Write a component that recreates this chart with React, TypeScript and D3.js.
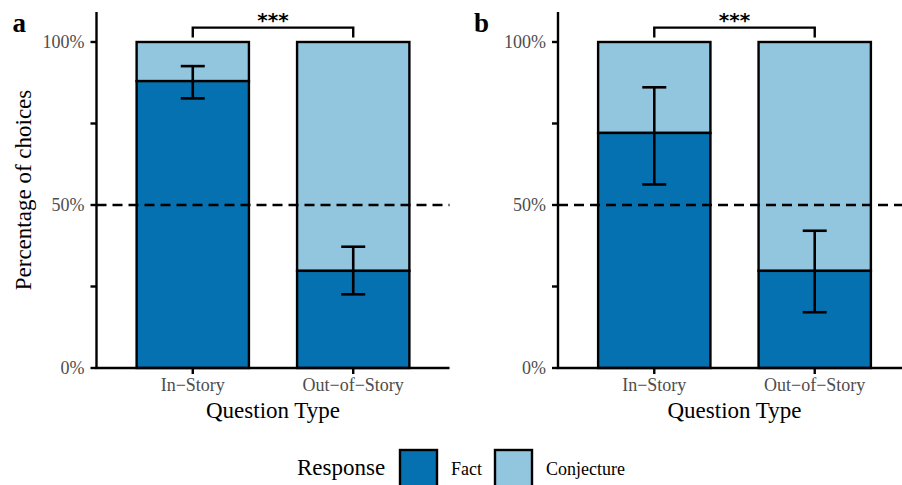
import * as d3 from 'd3';

const categories = ['In−Story', 'Out−of−Story'];
const yTicks = [0, 0.25, 0.5, 0.75, 1];
const yTickLabels = ['0%', '', '50%', '', '100%'];

// panel a
const factA = [0.88, 0.298];
const lowA = [0.827, 0.226];
const highA = [0.926, 0.372];

// panel b
const factB = [0.721, 0.298];
const lowB = [0.563, 0.171];
const highB = [0.861, 0.421];

const FACT = '#0571b0';
const CONJ = '#92c5de';
const FONT = 'Liberation Serif';

const W = 902;
const H = 485;
const top = 12;
const bottom = 368;
const panelWidth = 353;
const LW = 2.4;

type PanelProps = {
  left: number;
  letter: string;
  fact: number[];
  low: number[];
  high: number[];
  showYTitle: boolean;
};

const Panel = ({ left, letter, fact, low, high, showYTitle }: PanelProps) => {
  const right = left + panelWidth;
  const y = d3.scaleLinear().domain([0, 1.092]).range([bottom, top]);
  const x = d3.scalePoint<string>().domain(categories).range([left, right]).padding(0.6);
  const bw = x.step() * 0.7;
  const capW = 24;
  const x0 = x(categories[0])!;
  const x1 = x(categories[1])!;

  return (
    <g>
      <text x={left - 84} y={32} style={{ fontFamily: FONT }} fontWeight="bold" fontSize={27} fill="#000">
        {letter}
      </text>

      {categories.map((c, i) => {
        const cx = x(c)!;
        return (
          <g key={c}>
            <rect x={cx - bw / 2} y={y(1)} width={bw} height={y(fact[i]) - y(1)}
              fill={CONJ} stroke="#000" strokeWidth={LW} />
            <rect x={cx - bw / 2} y={y(fact[i])} width={bw} height={y(0) - y(fact[i])}
              fill={FACT} stroke="#000" strokeWidth={LW} />
          </g>
        );
      })}

      <line x1={left} x2={right} y1={y(0.5)} y2={y(0.5)} stroke="#000" strokeWidth={2.4}
        strokeDasharray="10,6" />

      {categories.map((c, i) => {
        const cx = x(c)!;
        return (
          <g key={'e' + c} stroke="#000" strokeWidth={2.6}>
            <line x1={cx} x2={cx} y1={y(low[i])} y2={y(high[i])} />
            <line x1={cx - capW / 2} x2={cx + capW / 2} y1={y(low[i])} y2={y(low[i])} />
            <line x1={cx - capW / 2} x2={cx + capW / 2} y1={y(high[i])} y2={y(high[i])} />
          </g>
        );
      })}

      {/* significance bracket */}
      <path d={`M${x0},${y(1.014)}V${y(1.044)}H${x1}V${y(1.014)}`} fill="none" stroke="#000"
        strokeWidth={LW} />
      <text x={(x0 + x1) / 2} y={27} textAnchor="middle" style={{ fontFamily: 'DejaVu Sans' }}
        fontWeight="bold" fontSize={20} fill="#000">
        ***
      </text>

      {/* axes */}
      <line x1={left} x2={left} y1={top} y2={bottom + 1} stroke="#000" strokeWidth={LW} />
      <line x1={left - 1} x2={right} y1={bottom} y2={bottom} stroke="#000" strokeWidth={LW} />
      {yTicks.map((t, i) => (
        <g key={'yt' + t}>
          <line x1={left - 6} x2={left} y1={y(t)} y2={y(t)} stroke="#000" strokeWidth={LW} />
          {yTickLabels[i] && (
            <text x={left - 12} y={y(t)} dy="0.35em" textAnchor="end" style={{ fontFamily: FONT }}
              fontSize={18} fill="#4d4d4d">
              {yTickLabels[i]}
            </text>
          )}
        </g>
      ))}
      {categories.map((c) => (
        <g key={'xt' + c}>
          <line x1={x(c)} x2={x(c)} y1={bottom} y2={bottom + 6} stroke="#000" strokeWidth={LW} />
          <text x={x(c)} y={391} textAnchor="middle" style={{ fontFamily: FONT }} fontSize={18} fill="#4d4d4d">
            {c}
          </text>
        </g>
      ))}
      <text x={(x0 + x1) / 2} y={418} textAnchor="middle" style={{ fontFamily: FONT }} fontSize={23} fill="#000">
        Question Type
      </text>
      {showYTitle && (
        <text transform={`translate(31,${(top + bottom) / 2}) rotate(-90)`} textAnchor="middle"
          style={{ fontFamily: FONT }} fontSize={23} fill="#000">
          Percentage of choices
        </text>
      )}
    </g>
  );
};

const legendItems = [
  { label: 'Fact', color: FACT, x: 400 },
  { label: 'Conjecture', color: CONJ, x: 495 },
];

export default function App() {
  return (
    <svg width={W} height={H} style={{ position: 'absolute', left: 0, top: 0, background: '#fff' }}>
      <Panel left={96.5} letter="a" fact={factA} low={lowA} high={highA} showYTitle />
      <Panel left={558} letter="b" fact={factB} low={lowB} high={highB} showYTitle={false} />

      <text x={297} y={475} style={{ fontFamily: FONT }} fontSize={23} fill="#000">Response</text>
      {legendItems.map((d) => (
        <g key={d.label}>
          <rect x={d.x} y={450} width={37} height={38} fill={d.color} stroke="#000" strokeWidth={LW} />
          <text x={d.x + 51} y={475} style={{ fontFamily: FONT }} fontSize={18} fill="#000">{d.label}</text>
        </g>
      ))}
    </svg>
  );
}
